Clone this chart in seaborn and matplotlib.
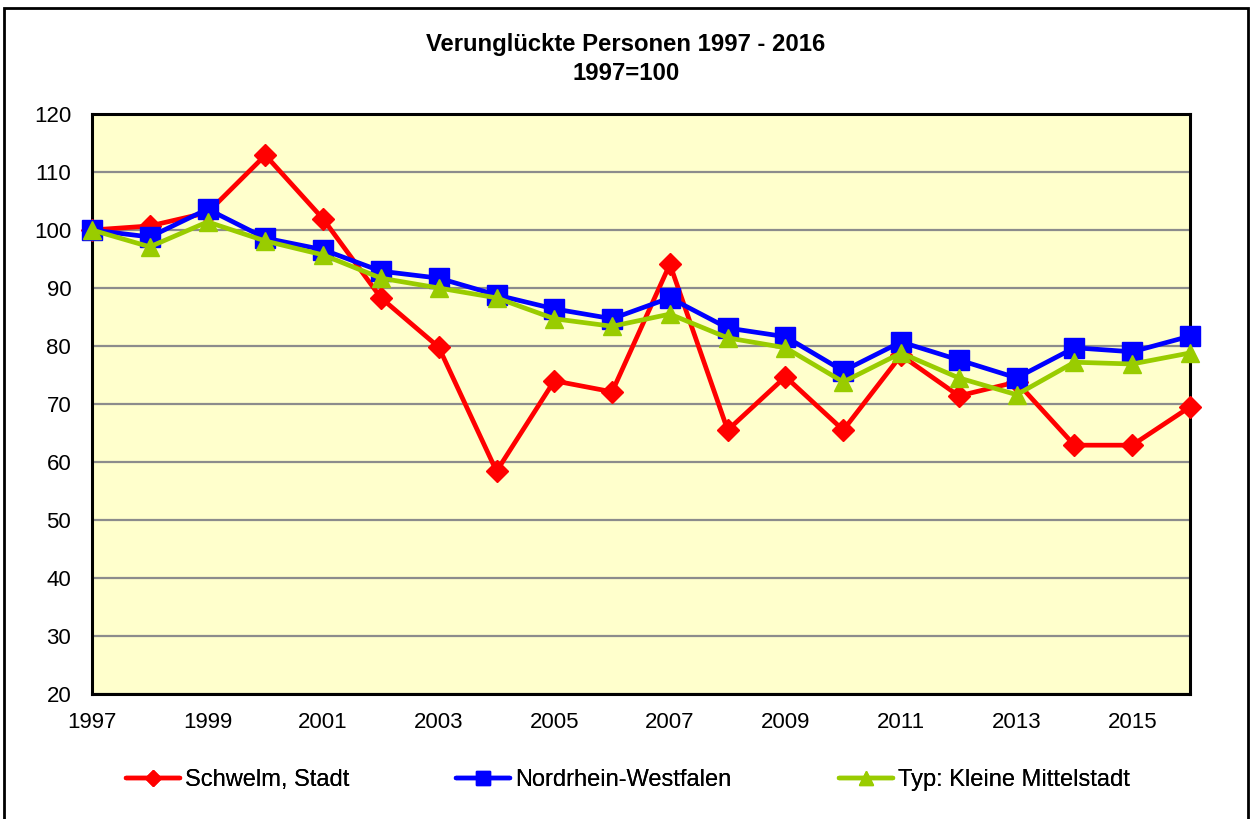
import numpy as np
import pandas as pd
import matplotlib
matplotlib.use("Agg")
import matplotlib.pyplot as plt
from matplotlib.lines import Line2D
from matplotlib.patches import Rectangle
import seaborn as sns

years = list(range(1997, 2017))
schwelm = [100, 100.7, 103, 112.9, 101.9, 88.3, 79.8, 58.4, 74.0, 72.1,
           94.1, 65.5, 74.7, 65.5, 78.4, 71.4, 73.8, 62.9, 62.9, 69.5]
nrw = [100, 98.8, 103.6, 98.6, 96.6, 92.9, 91.7, 88.8, 86.4, 84.7,
       88.3, 83.1, 81.6, 75.7, 80.7, 77.6, 74.5, 79.7, 79.0, 81.7]
mittelstadt = [100, 97.1, 101.4, 98.1, 95.7, 91.7, 90.0, 88.3, 84.7, 83.4,
               85.5, 81.4, 79.7, 73.8, 78.8, 74.5, 71.6, 77.2, 76.9, 78.8]
series_names = ["Schwelm, Stadt", "Nordrhein-Westfalen", "Typ: Kleine Mittelstadt"]
title_lines = ["Verunglückte Personen 1997 - 2016", "1997=100"]

sns.set_theme(style="white")
plt.rcParams["font.family"] = ["Liberation Sans", "DejaVu Sans"]
plt.rcParams["text.color"] = "black"

df = pd.DataFrame({
    "Jahr": years * 3,
    "Wert": schwelm + nrw + mittelstadt,
    "Reihe": [series_names[0]] * len(years) + [series_names[1]] * len(years)
             + [series_names[2]] * len(years),
})

W, H = 1252, 819
fig = plt.figure(figsize=(W / 100, H / 100), dpi=100)
ax = fig.add_axes([92 / W, 1 - 694 / H, 1098 / W, 580 / H])
ax.set_facecolor("#FFFFCC")

styles = {
    series_names[0]: dict(color="#FF0000", marker="D", ms=11.5, leg_ms=8, zorder=3),
    series_names[1]: dict(color="#0000FF", marker="s", ms=14, leg_ms=10, zorder=4),
    series_names[2]: dict(color="#99CC00", marker="^", ms=13, leg_ms=9.5, zorder=5),
}
for name in series_names:
    st = styles[name]
    sub = df[df["Reihe"] == name]
    sns.lineplot(data=sub, x="Jahr", y="Wert", ax=ax, color=st["color"],
                 marker=st["marker"], markersize=st["ms"], linewidth=3.4,
                 markeredgecolor=st["color"], markeredgewidth=1,
                 zorder=st["zorder"], clip_on=False, legend=False)

ax.set_xlim(1997, 2016)
ax.set_ylim(20, 120)
ax.set_yticks(np.arange(20, 121, 10))
ax.set_xticks(years, minor=True)
ax.set_xticks(years[::2])
ax.set_xticklabels([str(y) for y in years[::2]])
ax.yaxis.grid(True, color="#8C8C8C", linewidth=1.6)
ax.xaxis.grid(False)
ax.set_axisbelow(True)
ax.set_xlabel("")
ax.set_ylabel("")
for sp in ax.spines.values():
    sp.set_color("black")
    sp.set_linewidth(2.2)
    sp.set_zorder(2)
ax.tick_params(axis="both", which="both", direction="out", color="black",
               width=1.8, labelsize=16, labelcolor="black")
ax.tick_params(axis="y", length=7, pad=8)
ax.tick_params(axis="x", which="major", length=7, pad=6)
ax.tick_params(axis="x", which="minor", length=7, width=1.8)

# legend entries along the bottom, each at its own horizontal slot
legend_x = [126, 456, 839]
for name, x0 in zip(series_names, legend_x):
    st = styles[name]
    h = Line2D([], [], color=st["color"], marker=st["marker"],
               markersize=st["leg_ms"], markeredgecolor=st["color"],
               linewidth=3.2, solid_capstyle="round")
    leg = fig.legend([h], [name], loc="center left",
                     bbox_to_anchor=(x0 / W, 1 - 780 / H),
                     frameon=False, fontsize=17, borderpad=0,
                     borderaxespad=0, handlelength=2.3, handletextpad=0.2,
                     labelcolor="black")
    fig.add_artist(leg)

fig.text(0.5, 1 - 45 / H, title_lines[0], ha="center", va="center",
         fontsize=17.2, fontweight="bold", color="black")
fig.text(0.5, 1 - 73 / H, title_lines[1], ha="center", va="center",
         fontsize=17.2, fontweight="bold", color="black")

fig.patches.append(Rectangle((4 / W, -0.01), 1244 / W, 1 - 8 / H + 0.01,
                             transform=fig.transFigure, fill=False,
                             edgecolor="black", linewidth=2))

fig.savefig("out.png", dpi=100, facecolor="white")
